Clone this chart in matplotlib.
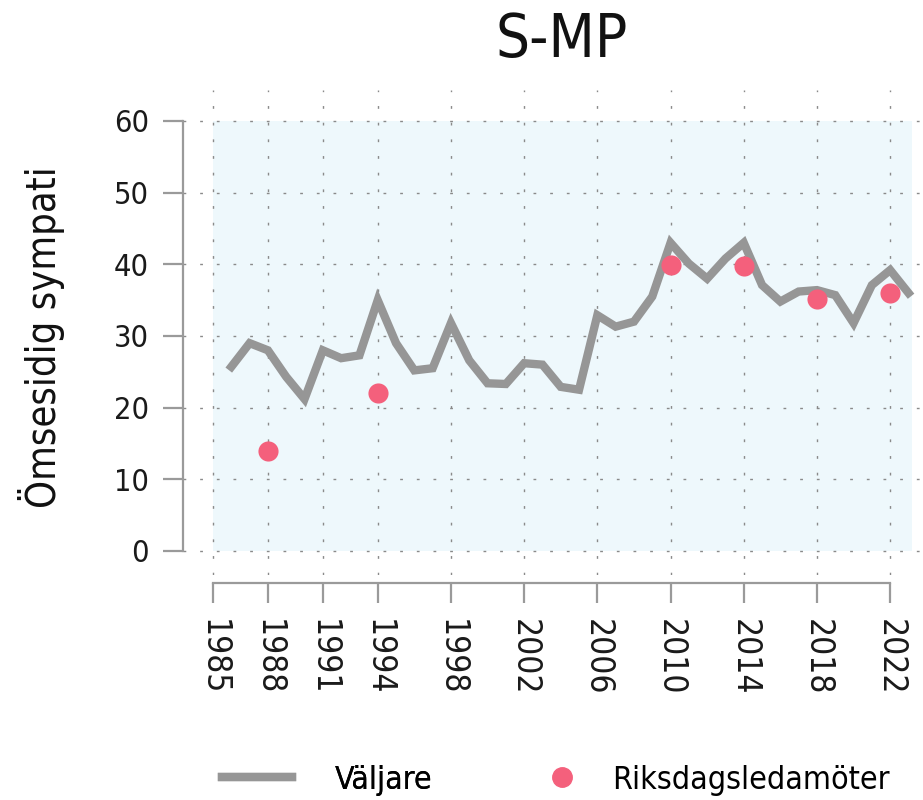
import matplotlib
matplotlib.use('Agg')
from matplotlib import pyplot as plt
from matplotlib import font_manager
from matplotlib.lines import Line2D

# yearly voter series (Väljare), 1986-2023
years = list(range(1986, 2024))
valjare = [25.7, 29.0, 28.0, 24.3, 21.2, 28.0, 26.9, 27.3, 35.0, 29.0,
           25.2, 25.5, 31.8, 26.6, 23.4, 23.3, 26.2, 26.0, 22.9, 22.5,
           32.9, 31.3, 32.0, 35.5, 43.0, 40.1, 38.0, 40.8, 43.0, 37.1,
           34.8, 36.2, 36.4, 35.7, 31.8, 37.1, 39.2, 36.0]

# members of parliament (Riksdagsledamöter)
mp_years = [1988, 1994, 2010, 2014, 2018, 2022]
mp_values = [14.0, 22.0, 39.9, 39.7, 35.1, 36.0]

xticks = [1985, 1988, 1991, 1994, 1998, 2002, 2006, 2010, 2014, 2018, 2022]
yticks = [0, 10, 20, 30, 40, 50, 60]

title = 'S-MP'
ylabel = 'Ömsesidig sympati'
labels = ['Väljare', 'Riksdagsledamöter']

LINE_C = '#969696'
DOT_C = '#f4607c'
BG_C = '#eef8fc'
AXIS_C = '#9a9a9a'

# a narrow face if there is one, else plain DejaVu Sans
narrow = None
for f in font_manager.fontManager.ttflist:
    if f.style != 'normal' or f.weight not in (400, 'normal', 'regular'):
        continue
    if 'Narrow' in f.name or 'Condensed' in f.name:
        narrow = (f.name, 'normal')
        break
    if str(f.stretch) in ('condensed', 'semi-condensed', '75', '87'):
        narrow = (f.name, 'condensed')
        break

if narrow:
    plt.rcParams['font.family'] = [narrow[0], 'DejaVu Sans']
    plt.rcParams['font.stretch'] = narrow[1]
    sz = dict(title=43, ytick=22, xtick=24, ylab=28.5, leg=23)
else:
    plt.rcParams['font.family'] = ['DejaVu Sans']
    sz = dict(title=40, ytick=21, xtick=23, ylab=27, leg=21)

W, H = 923, 800
fig = plt.figure(figsize=(W / 100, H / 100), dpi=100)
ax = fig.add_axes([183 / W, 1 - 575 / H, 737 / W, 485 / H])

ax.set_xlim(1983.36, 2023.63)
ax.set_ylim(-3.35, 64.32)

ax.fill_between([xticks[0], 2023.2], yticks[0], yticks[-1], color=BG_C,
                lw=0, zorder=0.2)
ax.set_axisbelow(True)
ax.grid(True, color='#8a8a8a', lw=1.0, linestyle=(0, (2, 10)))

ax.plot(years, valjare, color=LINE_C, lw=6, solid_joinstyle='miter',
        zorder=3, label=labels[0])
ax.scatter(mp_years, mp_values, s=210, color=DOT_C, lw=0, zorder=4,
           label=labels[1])

for s in ['top', 'right']:
    ax.spines[s].set_visible(False)
ax.spines['left'].set_bounds(yticks[0], yticks[-1])
ax.spines['bottom'].set_bounds(xticks[0], xticks[-1])
ax.spines['bottom'].set_position(('outward', 6))
for s in ['left', 'bottom']:
    ax.spines[s].set_color(AXIS_C)
    ax.spines[s].set_linewidth(1.6)

ax.set_xticks(xticks)
ax.set_yticks(yticks)
ax.set_xticklabels([str(x) for x in xticks], rotation=-90)
ax.tick_params(axis='both', colors=AXIS_C, width=1.6, length=14.5,
               labelcolor='#1a1a1a')
ax.tick_params(axis='y', labelsize=sz['ytick'], pad=10)
ax.tick_params(axis='x', labelsize=sz['xtick'], pad=11)

fig.text(562 / W, 1 - 40 / H, title, ha='center', va='center',
         fontsize=sz['title'], color='#111111')
fig.text(42 / W, 1 - 337 / H, ylabel, ha='center', va='center', rotation=90,
         fontsize=sz['ylab'], color='#111111')

# legend, two parts so the gaps match
h1 = Line2D([], [], color=LINE_C, lw=6)
h2 = Line2D([], [], color=DOT_C, marker='o', markersize=14, lw=0)
leg1 = fig.legend([h1], [labels[0]], loc='center left',
                  bbox_to_anchor=(222 / W, 1 - 780 / H), frameon=False,
                  fontsize=sz['leg'], handlelength=70 / (sz['leg'] * 1.389),
                  handletextpad=43 / (sz['leg'] * 1.389),
                  borderpad=0, borderaxespad=0)
leg2 = fig.legend([h2], [labels[1]], loc='center left',
                  bbox_to_anchor=(551 / W, 1 - 780 / H), frameon=False,
                  fontsize=sz['leg'], handlelength=22 / (sz['leg'] * 1.389),
                  handletextpad=39 / (sz['leg'] * 1.389),
                  borderpad=0, borderaxespad=0, numpoints=1)
fig.add_artist(leg1)

fig.savefig('out.png', dpi=100)
